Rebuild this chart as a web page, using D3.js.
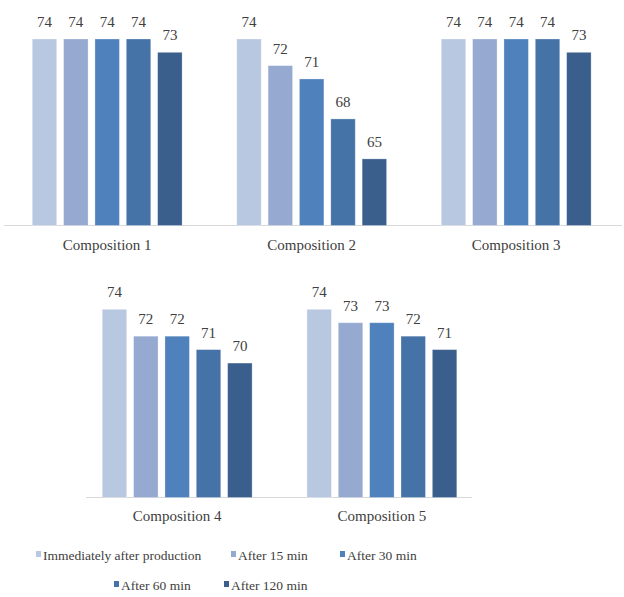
<!DOCTYPE html>
<html>
<head>
<meta charset="utf-8">
<script src="https://cdn.jsdelivr.net/npm/d3@7"></script>
<style>
  html, body { margin: 0; padding: 0; background: #fff; }
  svg { display: block; }
  text { font-family: "Liberation Serif", "Tinos", "Times New Roman", "DejaVu Serif", serif; }
</style>
</head>
<body>
<svg id="chart" width="624" height="597"></svg>
<script>
// ---- data ----
const categories = ["Composition 1", "Composition 2", "Composition 3", "Composition 4", "Composition 5"];
const seriesNames = ["Immediately after production", "After 15 min", "After 30 min", "After 60 min", "After 120 min"];
const composition1 = [74, 74, 74, 74, 73];
const composition2 = [74, 72, 71, 68, 65];
const composition3 = [74, 74, 74, 74, 73];
const composition4 = [74, 72, 72, 71, 70];
const composition5 = [74, 73, 73, 72, 71];
const seriesColors = ["#B9C8E1", "#95A9D1", "#4F81BD", "#4572A7", "#3A5F8D"];

const values = [composition1, composition2, composition3, composition4, composition5];

const svg = d3.select("#chart");
const textColor = "#404040";

// layout for the two rows of panels
const rows = [
  { panels: [0, 1, 2], left: 4, panelW: 204.5, baseY: 225.5, topY: 39, axisX: [4, 622], labelY: 250 },
  { panels: [3, 4], left: 74, panelW: 204.7, baseY: 497.5, topY: 309.3, axisX: [86, 472], labelY: 521 }
];

rows.forEach(row => {
  const y = d3.scaleLinear().domain([60, 74]).range([row.baseY, row.topY]);
  const gx = d3.scaleBand().domain(row.panels.map(i => categories[i]))
    .range([row.left, row.left + row.panelW * row.panels.length]);

  svg.append("line")
    .attr("x1", row.axisX[0]).attr("x2", row.axisX[1])
    .attr("y1", row.baseY).attr("y2", row.baseY)
    .attr("stroke", "#D9D9D9").attr("stroke-width", 1.2);

  row.panels.forEach(pi => {
    const cat = categories[pi];
    const x0 = gx(cat);
    const xs = d3.scaleBand().domain(seriesNames)
      .range([x0 + 24.8, x0 + 24.8 + 156.75])
      .paddingInner(0.22).paddingOuter(0.11);
    const g = svg.append("g");
    const vals = values[pi];

    g.selectAll("rect").data(vals).join("rect")
      .attr("x", (d, i) => xs(seriesNames[i]))
      .attr("width", xs.bandwidth())
      .attr("y", d => y(d))
      .attr("height", d => row.baseY - y(d))
      .attr("fill", (d, i) => seriesColors[i])
      .attr("stroke", "#ffffff").attr("stroke-opacity", 0.35).attr("stroke-width", 0.8);

    g.selectAll("text.val").data(vals).join("text")
      .attr("class", "val")
      .attr("x", (d, i) => xs(seriesNames[i]) + xs.bandwidth() / 2)
      .attr("y", d => y(d) - 12)
      .attr("text-anchor", "middle")
      .attr("font-size", 15)
      .attr("fill", textColor)
      .text(d => d);

    g.append("text")
      .attr("x", x0 + 24.8 + 156.75 / 2)
      .attr("y", row.labelY)
      .attr("text-anchor", "middle")
      .attr("font-size", 15)
      .attr("fill", textColor)
      .text(cat);
  });
});

// legend
const legendPos = [
  { x: 36, y: 560 }, { x: 231, y: 560 }, { x: 340, y: 560 },
  { x: 114, y: 590 }, { x: 224, y: 590 }
];
const lg = svg.append("g");
seriesNames.forEach((name, i) => {
  const p = legendPos[i];
  lg.append("rect")
    .attr("x", p.x).attr("y", p.y - 9)
    .attr("width", 5).attr("height", 6)
    .attr("fill", seriesColors[i]);
  lg.append("text")
    .attr("x", p.x + 7).attr("y", p.y)
    .attr("font-size", 13.5)
    .attr("fill", textColor)
    .text(name);
});
</script>
</body>
</html>
